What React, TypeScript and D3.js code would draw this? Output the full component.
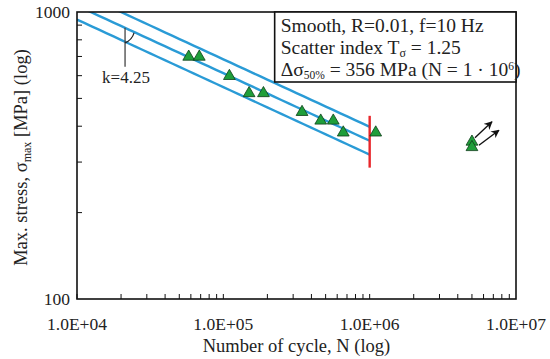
import React from "react";
import * as d3 from "d3";

// fatigue test results (cycles to failure, max stress in MPa)
const failCycles = [5.8e4, 6.85e4, 1.1e5, 1.5e5, 1.88e5, 3.45e5, 4.63e5, 5.64e5, 6.6e5, 1.1e6];
const failStress = [698, 698, 598, 521, 521, 448, 418, 418, 380, 380];

// run-outs
const runoutCycles = [5e6, 5e6];
const runoutStress = [353, 338];

// S-N curve parameters
const slopeK = 4.25;
const stress50 = 356;
const refCycles = 1e6;
const scatterT = 1.25;

const xTickValues = [1e4, 1e5, 1e6, 1e7];
const yTickValues = [100, 1000];

const W = 550;
const H = 359;
const margin = { top: 12, right: 34, bottom: 60, left: 77 };
const font = "'Liberation Serif', 'Times New Roman', serif";

const blue = "#2a9bd6";
const red = "#e8262a";
const green = "#1f9e3a";

export default function App() {
  const innerW = W - margin.left - margin.right;
  const innerH = H - margin.top - margin.bottom;

  const x = d3.scaleLog().domain([1e4, 1e7]).range([0, innerW]);
  const y = d3.scaleLog().domain([100, 1000]).range([innerH, 0]);

  const minorX: number[] = [];
  for (let e = 4; e < 7; e++) for (let m = 1; m <= 9; m++) minorX.push(m * Math.pow(10, e));
  const minorY: number[] = [];
  for (let m = 2; m <= 9; m++) minorY.push(m * 100);

  // S-N lines: upper, median and lower scatter band
  const bands = [Math.sqrt(scatterT), 1, 1 / Math.sqrt(scatterT)];
  const sn = (s0: number, n: number) => s0 * Math.pow(n / refCycles, -1 / slopeK);
  const curveNs = d3.range(0, 41).map((i) => Math.pow(10, 4 + (2 * i) / 40));

  const tri = d3.symbol(d3.symbolTriangle, 60)()!;

  // k annotation: vertical line hanging from the median curve
  const kN = 2.13e4;
  const kX = x(kN);
  const kY = y(sn(stress50, kN));

  return (
    <svg
      width={W}
      height={H}
      style={{ position: "absolute", left: 0, top: 0, background: "#fff" }}
      fontFamily={font}
    >
      <defs>
        <clipPath id="plot-clip">
          <rect x={0} y={0} width={innerW} height={innerH} />
        </clipPath>
        <marker id="arrow" viewBox="0 0 10 10" refX="9" refY="5" markerWidth="6" markerHeight="6" orient="auto">
          <path d="M0,0 L10,5 L0,10 L3,5 Z" fill="#111" />
        </marker>
      </defs>
      <g transform={`translate(${margin.left},${margin.top})`}>
        {/* S-N curves */}
        <g clipPath="url(#plot-clip)">
          {bands.map((f, i) => (
            <path
              key={i}
              d={
                d3
                  .line<number>()
                  .x((n) => x(n))
                  .y((n) => y(sn(stress50 * f, n)))(curveNs) || ""
              }
              fill="none"
              stroke={blue}
              strokeWidth={2.4}
            />
          ))}
        </g>
        {/* reference line at N = 1e6 */}
        <line
          x1={x(refCycles)}
          x2={x(refCycles)}
          y1={y(sn(stress50 * bands[0], refCycles)) - 11}
          y2={y(sn(stress50 * bands[2], refCycles)) + 13}
          stroke={red}
          strokeWidth={2.4}
        />

        {/* k annotation */}
        <line x1={kX} x2={kX} y1={kY} y2={kY + 39} stroke="#444" strokeWidth={1.3} />
        <path
          d={`M${kX},${kY + 15} Q${kX + 7},${kY + 12} ${kX + 9},${kY + 5}`}
          fill="none"
          stroke="#222"
          strokeWidth={1.2}
        />
        <text x={kX - 23} y={kY + 55} fontSize={17} fill="#222">
          k=4.25
        </text>

        {/* data */}
        {failCycles.map((n, i) => (
          <path
            key={i}
            d={tri}
            transform={`translate(${x(n)},${y(failStress[i])})`}
            fill={green}
            stroke="#0d3d18"
            strokeWidth={0.8}
          />
        ))}
        {runoutCycles.map((n, i) => (
          <g key={i} transform={`translate(${x(n)},${y(runoutStress[i])})`}>
            <path d={tri} fill={green} stroke="#0d3d18" strokeWidth={0.8} />
            <line
              x1={3 + i * 4}
              y1={-4 + i * 2}
              x2={20 + i * 7}
              y2={-20 + i * 3}
              stroke="#111"
              strokeWidth={1.4}
              markerEnd="url(#arrow)"
            />
          </g>
        ))}

        {/* minor ticks */}
        {minorX.map((v, i) => (
          <line key={i} x1={x(v)} x2={x(v)} y1={innerH} y2={innerH - 5} stroke="#111" strokeWidth={1} />
        ))}
        {minorY.map((v, i) => (
          <line key={i} x1={0} x2={5} y1={y(v)} y2={y(v)} stroke="#111" strokeWidth={1} />
        ))}

        {/* frame */}
        <rect x={0} y={0} width={innerW} height={innerH} fill="none" stroke="#111" strokeWidth={1.6} />

        {/* tick labels */}
        {xTickValues.map((v) => (
          <text key={v} x={x(v)} y={innerH + 31} textAnchor="middle" fontSize={17.5} fill="#222">
            {v.toExponential(1).replace("e+", "E+0")}
          </text>
        ))}
        {yTickValues.map((v) => (
          <text key={v} x={-7} y={y(v) + 6} textAnchor="end" fontSize={17.5} fill="#222">
            {v}
          </text>
        ))}

        {/* axis titles */}
        <text x={innerW / 2} y={innerH + 53} textAnchor="middle" fontSize={18.5} fill="#222">
          Number of cycle, N (log)
        </text>
        <text
          transform={`translate(-50,${innerH / 2 + 2}) rotate(-90)`}
          textAnchor="middle"
          fontSize={18.5}
          fill="#222"
        >
          Max. stress, σ<tspan fontSize={12} dy={4}>max</tspan>
          <tspan dy={-4}> [MPa] (log)</tspan>
        </text>

        {/* info box */}
        <g transform={`translate(${x(refCycles) - 95},0)`}>
          <rect x={0} y={0} width={innerW - x(refCycles) + 95} height={70} fill="#fff" stroke="#111" strokeWidth={1.6} />
          <text x={6} y={20} fontSize={19.5} fill="#222">
            Smooth, R=0.01, f=10 Hz
          </text>
          <text x={6} y={42} fontSize={19.5} fill="#222">
            Scatter index T<tspan fontSize={12} dy={3}>σ</tspan>
            <tspan dy={-3}> = 1.25</tspan>
          </text>
          <text x={6} y={64.3} fontSize={19.5} fill="#222">
            Δσ<tspan fontSize={11.5} dy={3}>50%</tspan>
            <tspan dy={-3}> = 356 MPa (N = 1 · 10</tspan>
            <tspan fontSize={11.5} dy={-6}>6</tspan>
            <tspan dy={6}>)</tspan>
          </text>
        </g>
      </g>
    </svg>
  );
}
